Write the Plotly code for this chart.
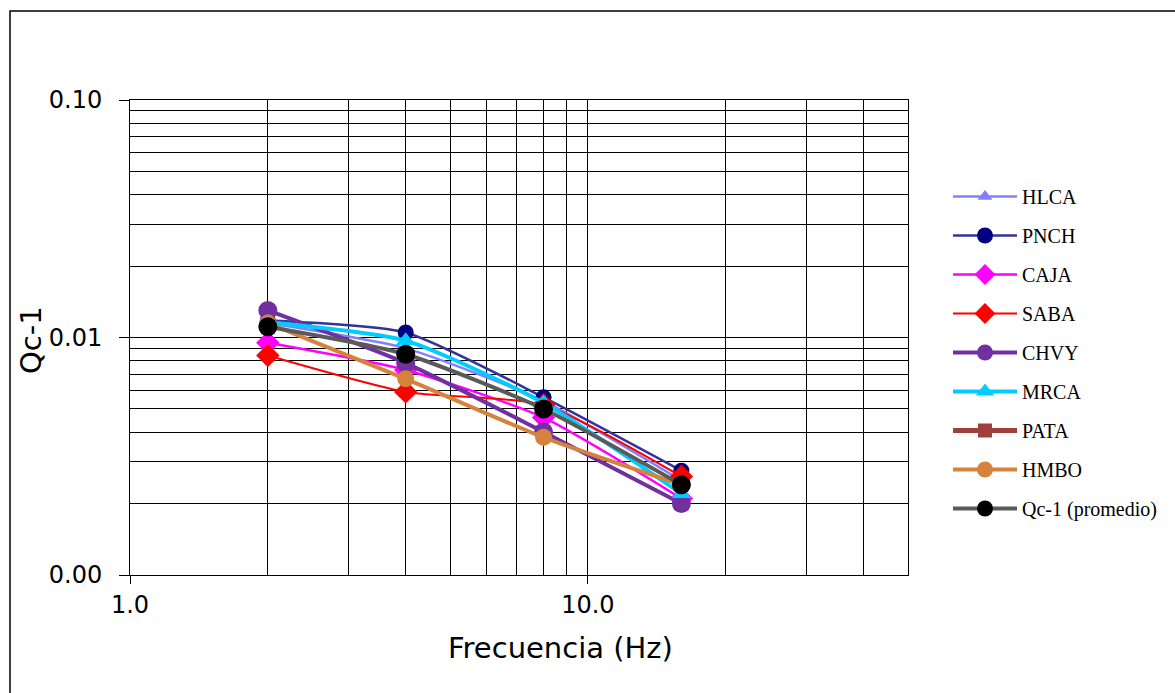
import plotly.graph_objects as go

freq = [2, 4, 8, 16]

HLCA = [0.0115, 0.0090, 0.0054, 0.0025]
PNCH = [0.0118, 0.0105, 0.0056, 0.00275]
CAJA = [0.0095, 0.0073, 0.0046, 0.0021]
SABA = [0.0084, 0.0059, 0.0052, 0.0026]
CHVY = [0.0130, 0.0078, 0.0040, 0.0020]
MRCA = [0.0116, 0.0097, 0.0053, 0.0022]
PATA = [None, None, None, None]
HMBO = [0.0115, 0.0067, 0.0038, 0.0024]
PROM = [0.0111, 0.0085, 0.0050, 0.0024]

series = [
    ("HLCA", HLCA, "#8080FF", "#8080FF", 2.5, "triangle-up", 13),
    ("PNCH", PNCH, "#333399", "#000080", 2.5, "circle", 16),
    ("CAJA", CAJA, "#FF00FF", "#FF00FF", 2.5, "diamond", 18),
    ("SABA", SABA, "#FF0000", "#FF0000", 2, "diamond", 18),
    ("CHVY", CHVY, "#7030A0", "#7030A0", 4, "circle", 19),
    ("MRCA", MRCA, "#00CCFF", "#00CCFF", 4, "triangle-up", 17),
    ("PATA", PATA, "#A0403C", "#A0403C", 5, "square", 14),
    ("HMBO", HMBO, "#D4823C", "#D4823C", 4, "circle", 17),
    ("Qc-1 (promedio)", PROM, "#5A5A5A", "#000000", 4, "circle", 19),
]

x_ticks = [1, 10]
x_ticktext = ["1.0", "10.0"]
x_minor = [2, 3, 4, 5, 6, 7, 8, 9, 20, 30, 40, 50]
y_ticks = [0.001, 0.01, 0.1]
y_ticktext = ["0.00", "0.01", "0.10"]
y_minor = [0.002, 0.003, 0.004, 0.005, 0.006, 0.007, 0.008, 0.009,
           0.02, 0.03, 0.04, 0.05, 0.06, 0.07, 0.08, 0.09]

fig = go.Figure()
for i, (name, vals, lc, mc, lw, sym, ms) in enumerate(series):
    fig.add_trace(go.Scatter(
        x=freq, y=vals, name=name, mode="lines+markers",
        line=dict(color=lc, width=lw, shape="spline", smoothing=0.6),
        marker=dict(color=mc, symbol=sym, size=ms),
        legendgroup=f"g{i}",
    ))

W, H = 1175, 693
L, R, T, B = 130, 908, 100, 575
pw, ph = R - L, B - T

fig.update_layout(
    width=W, height=H,
    margin=dict(l=L, r=W - R, t=T, b=H - B),
    plot_bgcolor="white", paper_bgcolor="white",
    font=dict(family="DejaVu Sans", color="black"),
    showlegend=True,
    legend=dict(
        x=(948 - L) / pw, y=(B - 177) / ph, xanchor="left", yanchor="top",
        font=dict(family="Liberation Serif", size=20, color="black"),
        tracegroupgap=10, itemwidth=64, bgcolor="rgba(0,0,0,0)",
    ),
    xaxis=dict(
        type="log", range=[0, 1.69897],
        tickvals=x_ticks, ticktext=x_ticktext,
        tickfont=dict(size=24), ticks="outside", ticklen=8, tickcolor="black",
        showgrid=True, gridcolor="black", gridwidth=1,
        showline=True, linecolor="black", linewidth=1, mirror=True,
        minor=dict(tickvals=x_minor, showgrid=True, gridcolor="black", gridwidth=1, ticks=""),
        zeroline=False,
    ),
    yaxis=dict(
        type="log", range=[-3, -1],
        tickvals=y_ticks, ticktext=y_ticktext,
        tickfont=dict(size=24), ticks="outside", ticklen=10, tickcolor="black",
        ticklabelstandoff=12,
        showgrid=True, gridcolor="black", gridwidth=1,
        showline=True, linecolor="black", linewidth=1, mirror=True,
        minor=dict(tickvals=y_minor, showgrid=True, gridcolor="black", gridwidth=1, ticks=""),
        zeroline=False,
    ),
    annotations=[
        dict(text="Frecuencia (Hz)", xref="paper", yref="paper",
             x=(560 - L) / pw, y=-(648 - B) / ph, xanchor="center", yanchor="middle",
             showarrow=False, font=dict(size=29)),
        dict(text="Qc-1", xref="paper", yref="paper",
             x=-(L - 31) / pw, y=(B - 340) / ph, xanchor="center", yanchor="middle",
             textangle=-90, showarrow=False, font=dict(size=29)),
    ],
    shapes=[
        dict(type="rect", xref="paper", yref="paper",
             x0=-(L - 10) / pw, x1=(1300 - L) / pw,
             y0=-(800 - B) / ph, y1=(B - 11) / ph,
             line=dict(color="black", width=1.5), fillcolor="rgba(0,0,0,0)", layer="below"),
    ],
)

fig.write_html("out.html")
